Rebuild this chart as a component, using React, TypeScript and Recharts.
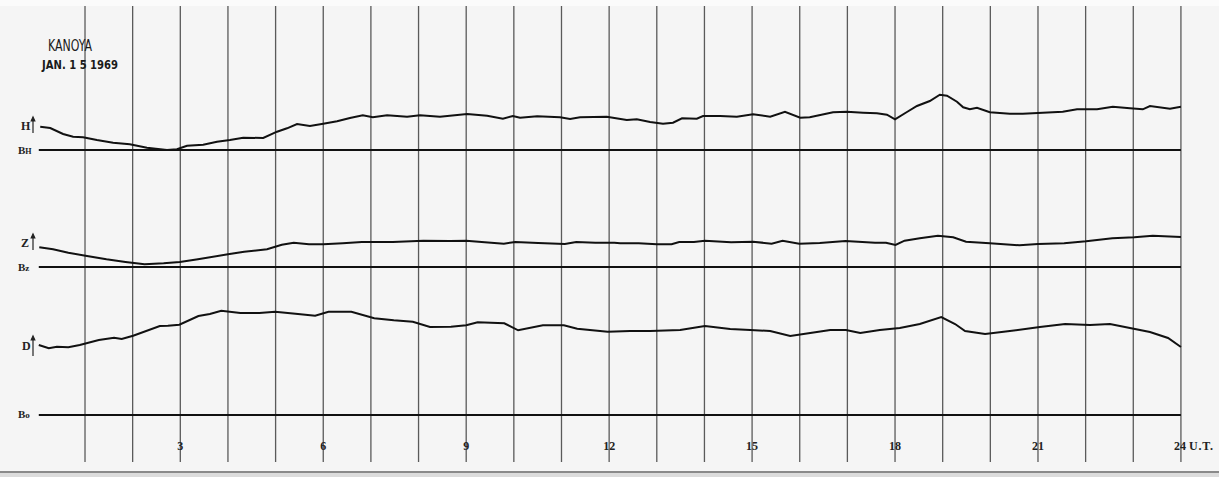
import React from 'react';
import { ComposedChart, Line, XAxis, YAxis, ReferenceLine, ReferenceDot } from 'recharts';

// Kanoya magnetogram, 1969-01-15. Hours (U.T.) and trace deflection above each baseline.
const hHours = [0.06, 0.27, 0.54, 0.75, 0.96, 1.25, 1.59, 1.94, 2.3, 2.72, 2.93, 3.14, 3.48, 3.77, 4.04, 4.32, 4.74, 5.03, 5.24, 5.45, 5.72, 6.0, 6.29, 6.56, 6.83, 7.04, 7.34, 7.76, 8.03, 8.45, 9.02, 9.44, 9.77, 9.98, 10.13, 10.49, 10.97, 11.18, 11.39, 11.95, 12.37, 12.58, 12.86, 13.13, 13.34, 13.53, 13.84, 13.97, 14.33, 14.68, 15.02, 15.38, 15.69, 16.01, 16.21, 16.7, 16.99, 17.33, 17.62, 17.83, 18.0, 18.25, 18.46, 18.73, 18.94, 19.09, 19.3, 19.43, 19.57, 19.72, 19.99, 20.41, 20.68, 21.1, 21.52, 21.82, 22.24, 22.57, 22.93, 23.2, 23.35, 23.77, 24.0];
const hValues = [23.3, 22, 16, 13.3, 12.7, 10, 7.3, 5.7, 2.3, 0, 0.7, 4.3, 5.3, 8.3, 10, 12.3, 12, 18.3, 21.7, 26, 24, 26.3, 28.7, 32, 34.7, 32.7, 34.7, 33.3, 34.7, 33.3, 36, 34.3, 31.3, 34, 32.3, 33.7, 32.7, 31, 32.7, 33.3, 30, 30.7, 28, 26.3, 27.3, 31.7, 31.3, 34, 34, 33.3, 35.7, 33.3, 38.3, 32.3, 32.7, 37.7, 38.3, 37.3, 36.7, 35.3, 30.7, 38, 44, 49, 55.3, 54.3, 48.3, 42.7, 40.7, 42.3, 37.7, 36.3, 36.3, 37.3, 38.3, 40.7, 40.7, 43.3, 41.7, 40.7, 44, 41.3, 43.3];

const zHours = [0.04, 0.33, 0.65, 1.01, 1.45, 1.85, 2.25, 2.65, 2.99, 3.37, 4.0, 4.34, 4.82, 5.13, 5.38, 5.7, 6.0, 6.41, 6.81, 7.46, 8.1, 8.66, 9.0, 9.39, 9.79, 10.03, 10.51, 11.07, 11.31, 11.71, 12.11, 12.23, 12.62, 13.0, 13.31, 13.47, 13.78, 14.01, 14.56, 15.02, 15.41, 15.64, 15.99, 16.42, 16.96, 17.58, 17.81, 18.01, 18.2, 18.52, 18.9, 19.22, 19.49, 19.99, 20.61, 21.0, 21.55, 22.01, 22.56, 23.02, 23.41, 24.0];
const zValues = [19.7, 17.7, 14.3, 11.3, 7.7, 5, 2.7, 3.7, 5, 7.7, 12.7, 15.3, 17.7, 22.3, 24.3, 22.7, 22.7, 23.7, 25, 25, 26.3, 26, 26.3, 24.7, 23.3, 25, 24, 23, 25, 24.3, 24.3, 23.7, 23.7, 22.7, 22.7, 25, 25, 26.3, 24.7, 25.3, 23.3, 26.3, 23.3, 24, 26, 24.3, 24.3, 22, 26.3, 28.7, 31.3, 29.7, 25.3, 23.7, 21.7, 23, 23.7, 25.7, 28.7, 29.7, 31.3, 30];

const dHours = [0.03, 0.24, 0.41, 0.65, 0.89, 1.29, 1.61, 1.77, 2.01, 2.57, 2.74, 2.98, 3.38, 3.62, 3.86, 4.26, 4.66, 4.99, 5.47, 5.83, 6.11, 6.59, 7.07, 7.48, 7.88, 8.24, 8.68, 9.0, 9.24, 9.8, 10.09, 10.61, 11.05, 11.33, 11.97, 12.44, 12.86, 13.49, 14.01, 14.54, 14.96, 15.38, 15.8, 16.22, 16.64, 16.97, 17.27, 17.68, 18.1, 18.52, 18.97, 19.26, 19.47, 19.89, 20.41, 21.04, 21.57, 22.09, 22.51, 22.93, 23.35, 23.73, 24.0];
const dValues = [70, 66.7, 68.3, 67.7, 70, 75, 77.3, 76, 79.3, 89, 89.3, 90.3, 99, 101, 104.3, 102, 102, 103.3, 101, 99.3, 103.3, 103.3, 96.7, 94.7, 93.3, 88, 88.3, 89.7, 92.7, 91.7, 84.7, 89.7, 89.7, 86.3, 83.3, 84, 84, 85, 89, 86, 85, 84, 79, 82, 85, 85, 82, 85, 87, 91, 98, 91, 84, 81, 84, 88, 91, 90, 91, 87, 83, 77, 68];

const gridHours = [1, 2, 3, 4, 5, 6, 7, 8, 9, 10, 11, 12, 13, 14, 15, 16, 17, 18, 19, 20, 21, 22, 23, 24];
const tickHours = [3, 6, 9, 12, 15, 18, 21];
const tickLabels = ['3', '6', '9', '12', '15', '18', '21'];

// layout (chart units: 0 = bottom of picture, 477 = top)
const W = 1219;
const H = 477;
const X_MIN = -0.784;
const X_MAX = 24.799;
const BASE_H = 327;
const BASE_Z = 210;
const BASE_D = 62;

const build = (hours: number[], vals: number[], base: number) =>
  hours.map((h, i) => ({ h, y: base + vals[i] }));

const hData = build(hHours, hValues, BASE_H);
const zData = build(zHours, zValues, BASE_Z);
const dData = build(dHours, dValues, BASE_D);

const tickFont = { fontFamily: 'Liberation Serif, serif', fontWeight: 700, fontSize: 12, fill: '#222' };

const Arrow = ({ x, y1, y2 }: { x: number; y1: number; y2: number }) => (
  <g stroke="#222" strokeWidth={1.2} fill="#222">
    <line x1={x} y1={y1 + 2} x2={x} y2={y2} />
    <path d={`M${x - 1.8},${y1 + 4} L${x},${y1} L${x + 1.8},${y1 + 4} Z`} />
  </g>
);

const SideLabels = () => (
  <svg width={W} height={H} style={{ position: 'absolute', left: 0, top: 0, pointerEvents: 'none' }}>
    <text x={48} y={51} fontFamily="DejaVu Sans Condensed, sans-serif" fontSize={15} fill="#1a1a1a" textLength={44} lengthAdjust="spacingAndGlyphs">KANOYA</text>
    <text x={42} y={69} fontFamily="DejaVu Sans Condensed, sans-serif" fontWeight={700} fontSize={12} fill="#1a1a1a" textLength={76} lengthAdjust="spacingAndGlyphs">JAN. 1 5 1969</text>
    <g fontFamily="Liberation Serif, serif" fontWeight={700} fill="#222">
      <text x={21} y={130} fontSize={12}>H</text>
      <text x={18} y={154} fontSize={11}>B<tspan fontSize={8}>H</tspan></text>
      <text x={21} y={247} fontSize={12}>Z</text>
      <text x={18} y={271} fontSize={11}>B<tspan fontSize={9}>z</tspan></text>
      <text x={22} y={350} fontSize={12}>D</text>
      <text x={18} y={418} fontSize={11}>B<tspan fontSize={9}>o</tspan></text>
    </g>
    <Arrow x={33} y1={117} y2={133} />
    <Arrow x={33} y1={234} y2={250} />
    <Arrow x={33} y1={336} y2={356} />
  </svg>
);

export default function App() {
  return (
    <div style={{ position: 'absolute', left: 0, top: 0, width: W, height: H, background: '#f5f5f5', overflow: 'hidden' }}>
      <div style={{ position: 'absolute', left: 0, top: 0, width: W, height: 6, background: '#fbfbfb' }} />
      <div style={{ position: 'absolute', left: 0, top: 471, width: W, height: 2, background: '#8a8a8a' }} />
      <div style={{ position: 'absolute', left: 0, top: 473, width: W, height: 4, background: '#dcdcdc' }} />
      <div style={{ position: 'absolute', left: 0, top: 0 }}>
        <ComposedChart width={W} height={H} margin={{ top: 0, right: 0, bottom: 0, left: 0 }}>
          <XAxis dataKey="h" type="number" domain={[X_MIN, X_MAX]} allowDataOverflow hide />
          <YAxis type="number" domain={[0, H]} allowDataOverflow hide />
          {gridHours.map((g) => (
            <ReferenceLine
              key={'g' + g}
              segment={[{ x: g, y: 471 }, { x: g, y: 15 }]}
              stroke="#5a5a5a"
              strokeWidth={1.3}
              ifOverflow="visible"
            />
          ))}
          {[BASE_H, BASE_Z, BASE_D].map((b) => (
            <ReferenceLine
              key={'b' + b}
              segment={[{ x: 0.03, y: b }, { x: 24.0, y: b }]}
              stroke="#111"
              strokeWidth={2}
              ifOverflow="visible"
            />
          ))}
          <Line data={hData} dataKey="y" type="linear" stroke="#111" strokeWidth={2} dot={false} activeDot={false} isAnimationActive={false} />
          <Line data={zData} dataKey="y" type="linear" stroke="#111" strokeWidth={2} dot={false} activeDot={false} isAnimationActive={false} />
          <Line data={dData} dataKey="y" type="linear" stroke="#111" strokeWidth={2} dot={false} activeDot={false} isAnimationActive={false} />
          {tickHours.map((t, i) => (
            <ReferenceDot
              key={'t' + t}
              x={t}
              y={31}
              r={0}
              fill="none"
              stroke="none"
              ifOverflow="visible"
              label={{ value: tickLabels[i], position: 'center', ...tickFont }}
            />
          ))}
          <ReferenceDot
            x={24}
            y={31}
            r={0}
            fill="none"
            stroke="none"
            ifOverflow="visible"
            label={(props: any) => {
              const vb = props.viewBox || {};
              const cx = (vb.x || 0) + (vb.width || 0) / 2;
              const cy = (vb.y || 0) + (vb.height || 0) / 2;
              return (
                <text x={cx - 7} y={cy + 4} {...tickFont}>
                  24<tspan dx={3} letterSpacing={0.8}>U.T.</tspan>
                </text>
              );
            }}
          />
        </ComposedChart>
      </div>
      <SideLabels />
    </div>
  );
}
